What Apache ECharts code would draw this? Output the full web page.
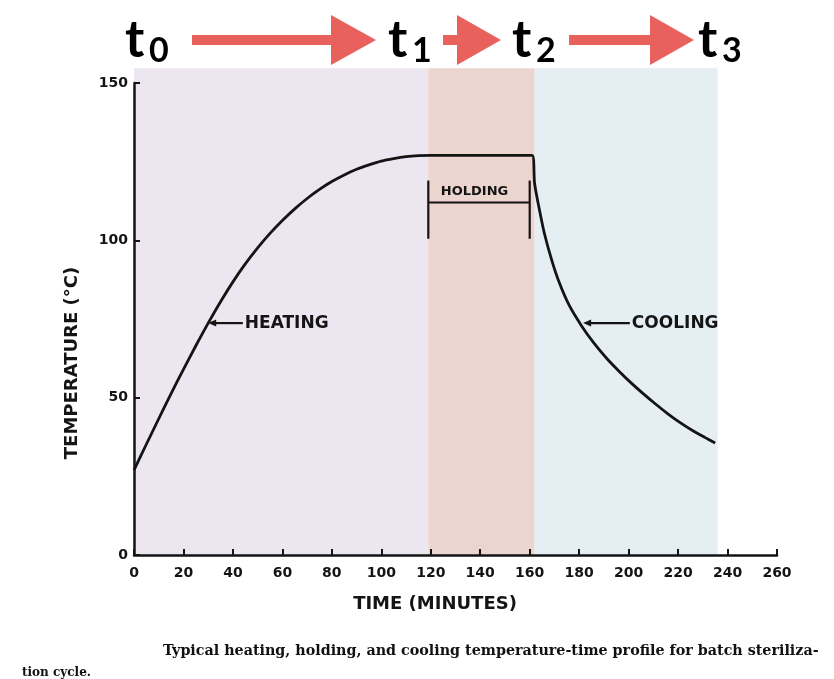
<!DOCTYPE html>
<html>
<head>
<meta charset="utf-8">
<script src="https://cdn.jsdelivr.net/npm/echarts@6/dist/echarts.min.js"></script>
<style>
  html, body { margin: 0; padding: 0; background: #ffffff; }
  #chart { width: 834px; height: 679px; }
</style>
</head>
<body>
<div id="chart"></div>
<script>
// Temperature profile of a batch sterilization cycle (time in minutes, temperature in °C)
const timeMin = [
  0, 5, 10, 15, 20, 25, 30, 35, 40, 45, 50, 55, 60, 65, 70, 75, 80, 85, 90, 95, 100, 105, 110, 115, 120,
  130, 140, 150, 161,
  162, 164, 166, 169, 172, 176, 181, 186, 191, 196, 201, 206, 211, 216, 221, 226, 231, 235
];
const tempC = [
  27, 35.2, 43.3, 51.3, 59, 66.5, 73.7, 80.5, 86.8, 92.5, 97.6, 102.2, 106.3, 110, 113.3, 116.2, 118.7, 120.8, 122.6, 124, 125.2, 126, 126.6, 126.9, 127,
  127, 127, 127, 127,
  118, 109.5, 102, 93.5, 86.5, 79.3, 72.8, 67.3, 62.6, 58.5, 54.7, 51.2, 47.9, 44.8, 42, 39.5, 37.3, 35.6
];

// Phases of the cycle: heating, holding, cooling (start / end in minutes)
const phaseNames = ['HEATING', 'HOLDING', 'COOLING'];
const phaseStart = [0, 119, 162];
const phaseEnd = [119, 162, 236];

// Time markers over the phase boundaries
const markerNames = ['t', 't', 't', 't'];
const markerSubs = ['0', '1', '2', '3'];

// Axis ranges / ticks
const xMin = 0, xMax = 260, xStep = 20;
const yMin = 0, yMax = 150, yStep = 50;

const BAND_TOP = 154.7;
const BAND_COLORS = ['#ebe6ef', '#ecd4cf', '#e5eef3'];
const INK = '#141414';
const LABEL_FONT = '"DejaVu Sans", sans-serif';

const chart = echarts.init(document.getElementById('chart'), null, { renderer: 'canvas' });

const lineData = timeMin.map((t, i) => [t, tempC[i]]);
const bandData = phaseNames.map((n, i) => [phaseStart[i], phaseEnd[i], n]);

const option = {
  animation: false,
  backgroundColor: '#ffffff',
  grid: { left: 134, right: 57, top: 83, bottom: 124, containLabel: false },
  xAxis: {
    type: 'value', min: xMin, max: xMax, interval: xStep, z: 5,
    axisLine: { show: true, lineStyle: { color: INK, width: 2.5 } },
    axisTick: { show: true, inside: true, length: 6, lineStyle: { color: INK, width: 2 } },
    axisLabel: { margin: 11, color: INK, fontFamily: LABEL_FONT, fontWeight: 'bold', fontSize: 14 },
    splitLine: { show: false }
  },
  yAxis: {
    type: 'value', min: yMin, max: yMax, interval: yStep, z: 5,
    axisLine: { show: true, lineStyle: { color: INK, width: 2.5 } },
    axisTick: { show: true, inside: true, length: 6, lineStyle: { color: INK, width: 2 } },
    axisLabel: { margin: 6, color: INK, fontFamily: LABEL_FONT, fontWeight: 'bold', fontSize: 14 },
    splitLine: { show: false }
  },
  series: [
    {
      type: 'custom',
      name: 'phases',
      silent: true,
      clip: false,
      z: 1,
      data: bandData,
      renderItem: function (params, api) {
        const p0 = api.coord([api.value(0), BAND_TOP]);
        const p1 = api.coord([api.value(1), 0]);
        return {
          type: 'rect',
          shape: { x: p0[0], y: p0[1], width: p1[0] - p0[0], height: p1[1] - p0[1] },
          style: { fill: BAND_COLORS[params.dataIndex] }
        };
      }
    },
    {
      type: 'line',
      name: 'temperature',
      data: lineData,
      z: 4,
      smooth: 0.3,
      showSymbol: false,
      lineStyle: { color: INK, width: 2.8 }
    }
  ]
};

chart.setOption(option);

const px = (t, v) => chart.convertToPixel({ gridIndex: 0 }, [t, v]);
const g = [];

// Leader arrows for HEATING / COOLING
function leader(tipT, tailT, temp, text) {
  const tip = px(tipT, temp), tail = px(tailT, temp);
  g.push({ type: 'line', z: 10, shape: { x1: tip[0] + 5, y1: tip[1], x2: tail[0], y2: tail[1] },
           style: { stroke: INK, lineWidth: 2.2 } });
  g.push({ type: 'polygon', z: 10, shape: { points: [[tip[0], tip[1]], [tip[0] + 8, tip[1] - 3.5], [tip[0] + 8, tip[1] + 3.5]] },
           style: { fill: INK } });
  g.push({ type: 'text', z: 10, x: tail[0] + 2, y: tail[1],
           style: { text: text, fill: INK, font: 'bold 17px ' + LABEL_FONT, textAlign: 'left', textVerticalAlign: 'middle' } });
}
leader(30, 44, 73.7, phaseNames[0]);
leader(181.6, 200.5, 73.7, phaseNames[2]);

// HOLDING bracket
(function () {
  const a = px(phaseStart[1], 112), b = px(160, 112);
  const top = px(0, 119)[1], bot = px(0, 100.5)[1];
  g.push({ type: 'line', z: 10, shape: { x1: a[0], y1: a[1], x2: b[0], y2: b[1] }, style: { stroke: INK, lineWidth: 2 } });
  g.push({ type: 'line', z: 10, shape: { x1: a[0], y1: top, x2: a[0], y2: bot }, style: { stroke: INK, lineWidth: 2.2 } });
  g.push({ type: 'line', z: 10, shape: { x1: b[0], y1: top, x2: b[0], y2: bot }, style: { stroke: INK, lineWidth: 2.2 } });
  const c = px(137.7, 115.4);
  g.push({ type: 'text', z: 10, x: c[0], y: c[1],
           style: { text: phaseNames[1], fill: INK, font: 'bold 13px ' + LABEL_FONT, textAlign: 'center', textVerticalAlign: 'middle' } });
})();

// Axis titles
g.push({ type: 'text', z: 10, x: 72, y: 363, rotation: Math.PI / 2,
         style: { text: 'TEMPERATURE (°C)', fill: INK, font: 'bold 18px ' + LABEL_FONT, textAlign: 'center', textVerticalAlign: 'middle' } });
g.push({ type: 'text', z: 10, x: 435, y: 604,
         style: { text: 'TIME (MINUTES)', fill: INK, font: 'bold 18px ' + LABEL_FONT, textAlign: 'center', textVerticalAlign: 'middle' } });

// Caption
g.push({ type: 'text', z: 10, x: 163, y: 651,
         style: { text: 'Typical heating, holding, and cooling temperature-time profile for batch steriliza-', fill: '#111',
                  font: 'bold 14.3px "DejaVu Serif", serif', textAlign: 'left', textVerticalAlign: 'middle' } });
g.push({ type: 'text', z: 10, x: 22, y: 673,
         style: { text: 'tion cycle.', fill: '#111', font: 'bold 12px "DejaVu Serif", serif', textAlign: 'left', textVerticalAlign: 'middle' } });

// Time markers t0..t3 and the red arrows between them
const markerLeft = [125, 388, 512, 698];
markerNames.forEach((n, i) => {
  g.push({ type: 'text', z: 10, x: markerLeft[i], y: 66,
           style: { text: n, fill: '#000', font: 'bold 52px Lato, sans-serif', textAlign: 'left', textVerticalAlign: 'bottom' } });
  g.push({ type: 'text', z: 10, x: markerLeft[i] + 24, y: 68,
           style: { text: markerSubs[i], fill: '#000', font: 'bold 34px Lato, sans-serif', textAlign: 'left', textVerticalAlign: 'bottom' } });
});
const arrowSpans = [[192, 331, 376], [443, 457, 501], [569, 650, 694]];
arrowSpans.forEach(([x0, xh, xt]) => {
  g.push({ type: 'polygon', z: 9, shape: { points: [
      [x0, 35], [xh, 35], [xh, 15], [xt, 40], [xh, 65], [xh, 45], [x0, 45]] },
    style: { fill: '#e9615c' } });
});

chart.setOption({ graphic: g });
</script>
</body>
</html>
